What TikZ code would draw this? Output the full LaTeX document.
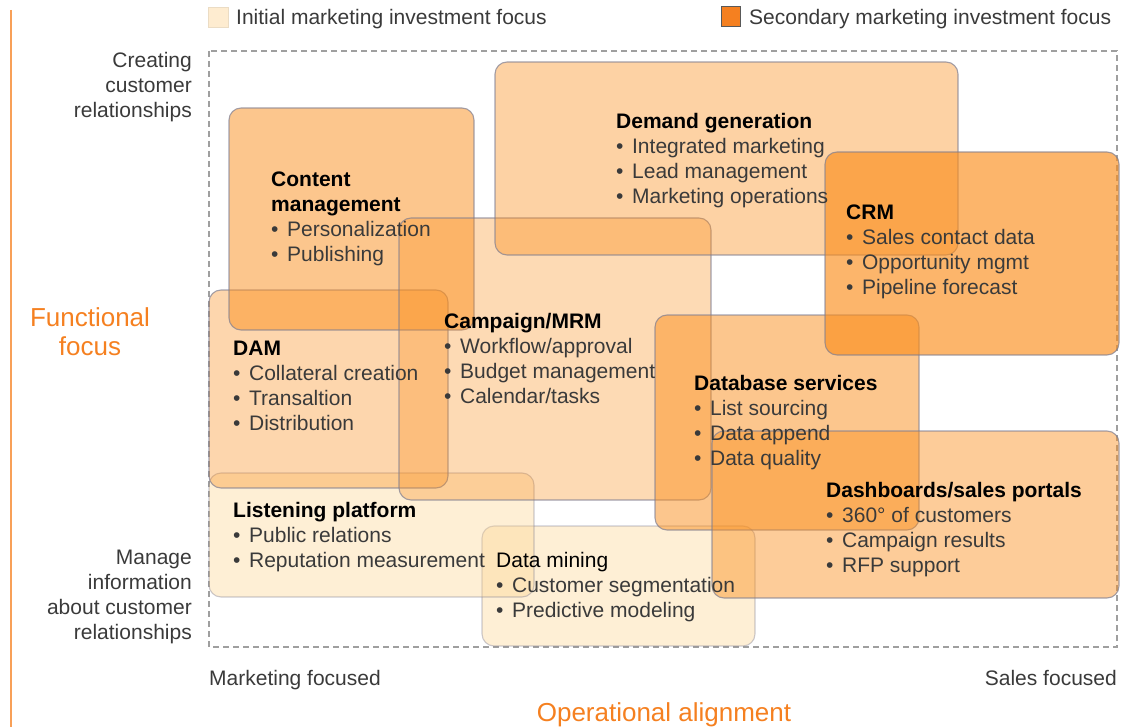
\documentclass[tikz,border=0pt]{standalone}
\usepackage{fontspec}
\setmainfont{Liberation Sans}
\newcommand\bul{•\hspace{8.6pt}}
\begin{document}
\begin{tikzpicture}[x=1pt,y=-1pt]
\definecolor{accent}{RGB}{250,142,28}
\definecolor{paleaccent}{RGB}{252,212,145}
\definecolor{edge}{RGB}{125,125,145}
\definecolor{txtgray}{RGB}{58,58,58}
\definecolor{axisorange}{RGB}{245,128,32}
\definecolor{paleorange}{RGB}{254,236,208}
\tikzset{
  panel/.style={fill=accent, fill opacity=#1, draw=edge, draw opacity=0.7,
                line width=1.1pt, rounded corners=12pt},
  palepanel/.style={panel=0.38, fill=paleaccent, draw opacity=0.4},
  body/.style={font=\fontsize{21}{25}\selectfont, text=txtgray, inner sep=0pt},
  boxtext/.style={body, anchor=north west, align=left},
  axistitle/.style={font=\fontsize{26}{29}\selectfont, text=axisorange, inner sep=0pt, align=center},
}
\useasboundingbox (0,0) rectangle (1126,727);

% vertical accent rule on the left
\draw[line width=2.6pt, color=axisorange!75] (11,10) -- (11,727);

% legend
\draw[fill=paleorange, draw=paleorange!85!gray, line width=0.8pt] (208,7) rectangle (228,27);
\node[body, anchor=north west] (leg1) at (236,9) {Initial marketing investment focus};
\draw[fill=axisorange, draw=black!65, line width=1pt] (721,7) rectangle (740,27);
\node[body, anchor=north west] (leg2) at (749,9) {Secondary marketing investment focus};

% plotting frame
\draw[gray!75, line width=1.3pt, dash pattern=on 6pt off 4pt] (209,51) rectangle (1117,647);

% axis labels
\node[body, anchor=north east, align=right] (top) at (192,52)
  {Creating\\customer\\relationships};
\node[body, anchor=north east, align=right] (bottom) at (192,550)
  {Manage\\information\\about customer\\relationships};
\node[axistitle, anchor=north] (func) at (90,307) {Functional\\focus};
\node[body, anchor=north west] (mkt) at (209,670) {Marketing focused};
\node[body, anchor=north east] (sales) at (1117,670) {Sales focused};
\node[axistitle, anchor=north] (oper) at (664,702) {Operational alignment};

% capability areas (translucent, overlapping)
\draw[palepanel] (482,526) rectangle (755,646);
\draw[palepanel] (209,473) rectangle (534,597);
\draw[panel=0.36] (209,290) rectangle (448,488);
\draw[panel=0.5]  (229,108) rectangle (474,330);
\draw[panel=0.33] (399,218) rectangle (711,500);
\draw[panel=0.4]  (495,62) rectangle (958,255);
\draw[panel=0.5]  (655,315) rectangle (919,530);
\draw[panel=0.45] (712,431) rectangle (1119,598);
\draw[panel=0.65] (825,152) rectangle (1119,355);

% area descriptions
\node[boxtext] (dm) at (496,552)
  {\color{black}Data mining\\\bul Customer segmentation\\\bul Predictive modeling};
\node[boxtext] (lp) at (233,502)
  {\textbf{\color{black}Listening platform}\\\bul Public relations\\\bul Reputation measurement};
\node[boxtext] (dam) at (233,341)
  {\textbf{\color{black}DAM}\\\bul Collateral creation\\\bul Transaltion\\\bul Distribution};
\node[boxtext] (cm) at (271,172)
  {\textbf{\color{black}Content}\\\textbf{\color{black}management}\\\bul Personalization\\\bul Publishing};
\node[boxtext] (mrm) at (444,313)
  {\textbf{\color{black}Campaign/MRM}\\\bul Workflow/approval\\\bul Budget management\\\bul Calendar/tasks};
\node[boxtext] (dg) at (616,113)
  {\textbf{\color{black}Demand generation}\\\bul Integrated marketing\\\bul Lead management\\\bul Marketing operations};
\node[boxtext] (db) at (694,375)
  {\textbf{\color{black}Database services}\\\bul List sourcing\\\bul Data append\\\bul Data quality};
\node[boxtext] (dash) at (826,482)
  {\textbf{\color{black}Dashboards/sales portals}\\\bul 360° of customers\\\bul Campaign results\\\bul RFP support};
\node[boxtext] (crm) at (846,205)
  {\textbf{\color{black}CRM}\\\bul Sales contact data\\\bul Opportunity mgmt\\\bul Pipeline forecast};
\end{tikzpicture}
\end{document}
